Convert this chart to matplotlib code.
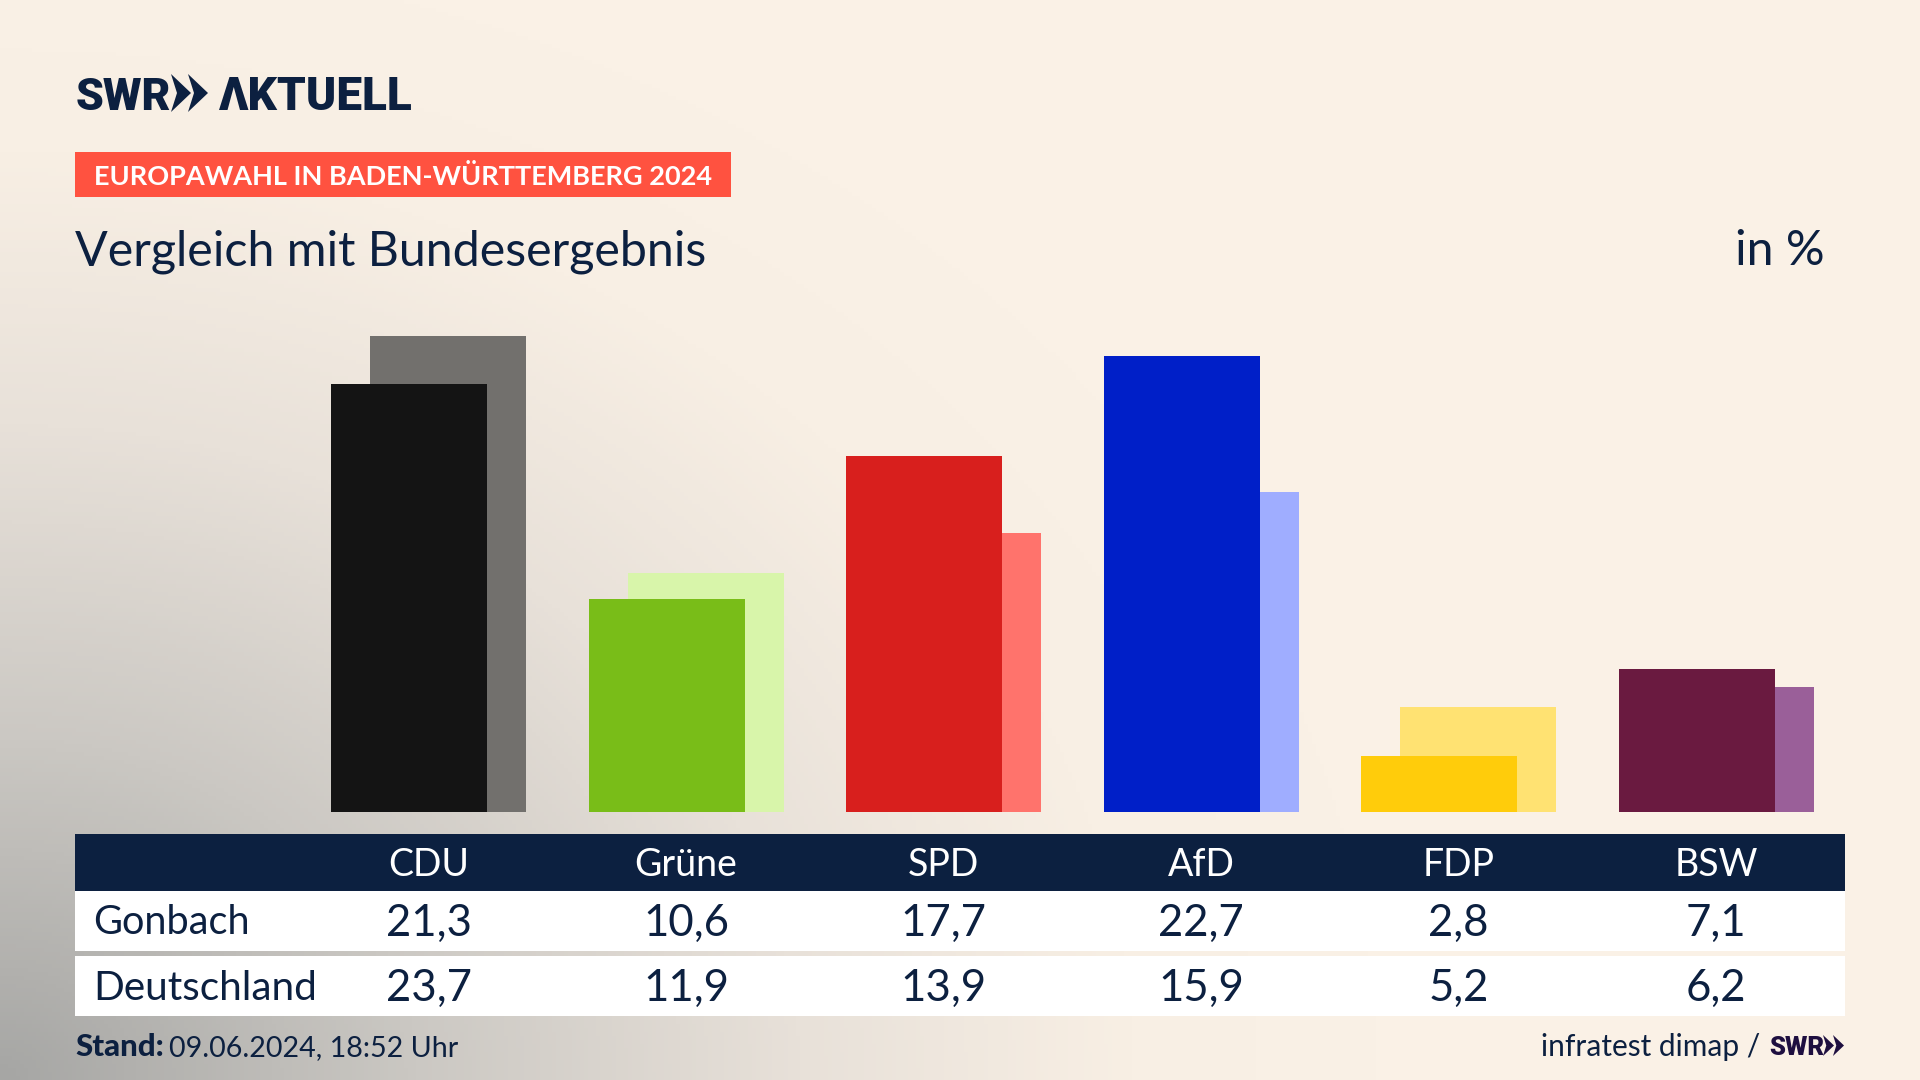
import numpy as np
import matplotlib
matplotlib.use("Agg")
import matplotlib.pyplot as plt
from matplotlib.patches import Rectangle, Polygon
from matplotlib.colors import LinearSegmentedColormap

plt.rcParams['font.family'] = ['Lato', 'Noto Sans', 'DejaVu Sans']

parties = ["CDU", "Grüne", "SPD", "AfD", "FDP", "BSW"]
gonbach = [21.3, 10.6, 17.7, 22.7, 2.8, 7.1]
deutschland = [23.7, 11.9, 13.9, 15.9, 5.2, 6.2]
front_colors = ["#141414", "#79BD18", "#D81F1D", "#001FC8", "#FFCC0B", "#6A1A40"]
back_colors = ["#72706D", "#D8F5AA", "#FF736C", "#9FADFF", "#FFE272", "#9A5F99"]

NAVY = "#0C2040"
LOGO_FONT = ["Roboto", "DejaVu Sans"]
W, H = 1920, 1080

fig = plt.figure(figsize=(19.2, 10.8), dpi=100)

# fond + elements fixes en pixels
bg = fig.add_axes([0, 0, 1, 1])
bg.set_xlim(0, W)
bg.set_ylim(H, 0)
bg.axis("off")

xx, yy = np.meshgrid(np.linspace(0, 1, 480), np.linspace(0, 1, 270))
dist = np.sqrt((xx / 0.72) ** 2 + ((1 - yy) / 1.05) ** 2)
grad = LinearSegmentedColormap.from_list(
    "fond", [(0, "#A6A6A4"), (0.3, "#CBC8C3"), (0.58, "#E8E1D9"), (0.82, "#F8EFE4"), (1, "#FAF1E6")])
bg.imshow(np.clip(dist, 0, 1), cmap=grad, vmin=0, vmax=1, extent=(0, W, H, 0), aspect="auto")


def chevrons(ax, x, top, bot, w, gap, color):
    mid = (top + bot) / 2
    for i in range(2):
        x0 = x + i * gap
        ax.add_patch(Polygon([(x0, top), (x0 + w, mid), (x0, bot), (x0 + w * 0.3, mid)],
                             closed=True, color=color, lw=0))


# logo
bg.text(76, 110, "SWR", fontsize=32, fontweight="black", color=NAVY, va="baseline", family=LOGO_FONT)
chevrons(bg, 171, 74, 112, 20, 17, NAVY)
bg.text(219, 110, "ΛKTUELL", fontsize=33, fontweight="black", color=NAVY, va="baseline", family=LOGO_FONT)

# bandeau
bg.add_patch(Rectangle((75, 152), 656, 45, color="#FF5240", lw=0))
bg.text(94, 185, "EUROPAWAHL IN BADEN-WÜRTTEMBERG 2024", fontsize=19.5, fontweight="bold",
        color="white", va="baseline")

bg.text(75, 265, "Vergleich mit Bundesergebnis", fontsize=34.8, color=NAVY, va="baseline")
bg.text(1825, 265, "in %", fontsize=34.8, color=NAVY, va="baseline", ha="right")

# barres : 1 unite x = 257.5 px, 1 % = 20.1 px
first_center = 428.6
step = 257.5
px_per_pct = 20.1
base_y = 812
ax_left, ax_right = 75, 1845
ax_top = 300
ax = fig.add_axes([ax_left / W, 1 - base_y / H, (ax_right - ax_left) / W, (base_y - ax_top) / H])
ax.patch.set_alpha(0)
ax.set_xlim((ax_left - first_center) / step, (ax_right - first_center) / step)
ax.set_ylim(0, (base_y - ax_top) / px_per_pct)
ax.axis("off")

pos = np.arange(len(parties))
bar_w = 156 / step
offset = 19.5 / step
ax.bar(pos + offset, deutschland, width=bar_w, color=back_colors, lw=0, zorder=2)
ax.bar(pos - offset, gonbach, width=bar_w, color=front_colors, lw=0, zorder=3)

# tableau
bg.add_patch(Rectangle((75, 834), 1770, 57, color=NAVY, lw=0))
bg.add_patch(Rectangle((75, 891), 1770, 60, color="white", lw=0))
bg.add_patch(Rectangle((75, 956), 1770, 60, color="white", lw=0))

for i, name in enumerate(parties):
    cx = first_center + i * step
    bg.text(cx, 876, name, fontsize=27, color="white", ha="center", va="baseline")
    bg.text(cx, 936, f"{gonbach[i]:.1f}".replace(".", ","), fontsize=31.5, color=NAVY, ha="center", va="baseline")
    bg.text(cx, 1001, f"{deutschland[i]:.1f}".replace(".", ","), fontsize=31.5, color=NAVY, ha="center", va="baseline")

bg.text(93, 934, "Gonbach", fontsize=28.6, color=NAVY, va="baseline")
bg.text(93, 1000, "Deutschland", fontsize=29.2, color=NAVY, va="baseline")

# pied de page
bg.text(75, 1056, "Stand:", fontsize=22.5, fontweight="black", color=NAVY, va="baseline")
bg.text(169, 1056, "09.06.2024, 18:52 Uhr", fontsize=20.6, color=NAVY, va="baseline")
bg.text(1760, 1056, "infratest dimap /", fontsize=21.5, color=NAVY, va="baseline", ha="right")
bg.text(1769, 1055, "SWR", fontsize=18.5, fontweight="black", color="#1E0F40", va="baseline", family=LOGO_FONT)
chevrons(bg, 1823, 1035, 1056, 11, 10, "#1E0F40")

fig.savefig("out.png", dpi=100)
